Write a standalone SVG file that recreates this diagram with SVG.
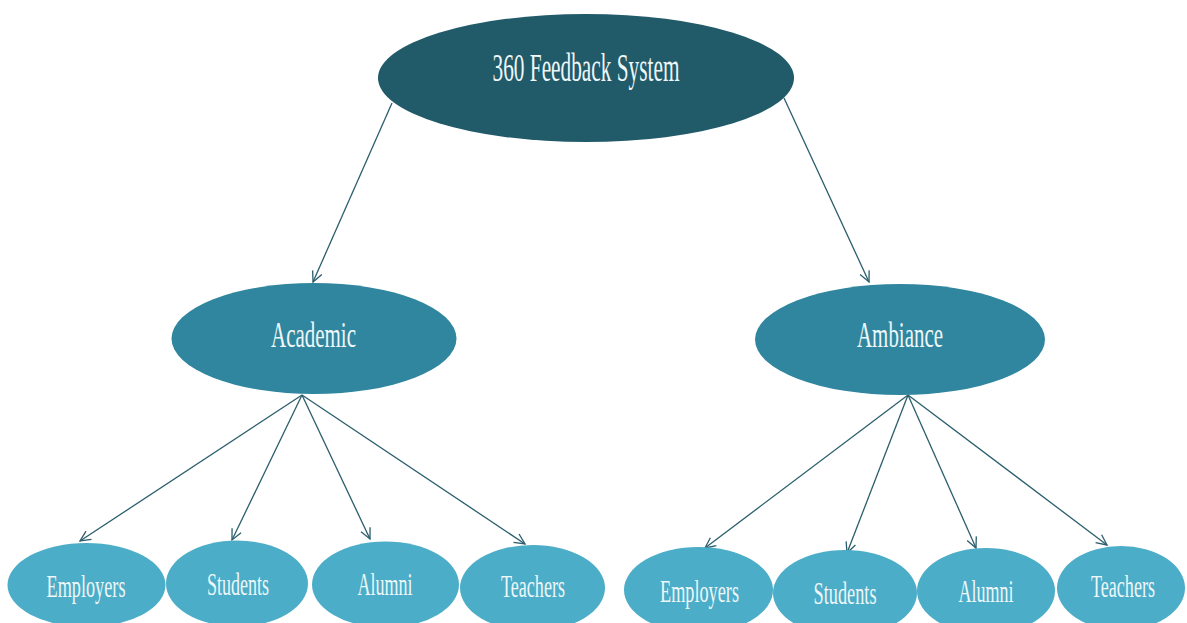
<svg xmlns="http://www.w3.org/2000/svg" width="1187" height="623" viewBox="0 0 1187 623">
<style>
.t{font-family:"Liberation Serif","Times New Roman",serif;fill:#eef7f9;text-anchor:middle}
.top{fill:#215a69}
.mid{fill:#30869e}
.leaf{fill:#4badc7}
.c{stroke:#2b5e6c;stroke-width:1.3;fill:none;marker-end:url(#ah)}
</style>
<defs>
<marker id="ah" markerUnits="userSpaceOnUse" markerWidth="14" markerHeight="14" refX="12" refY="7" orient="auto" overflow="visible">
<path d="M1.5,2 L12,7 L1.5,12" fill="none" stroke="#2b5e6c" stroke-width="1.3"/>
</marker>
</defs>
<rect width="1187" height="623" fill="#ffffff"/>
<g id="connectors">
<path class="c" d="M392,103 L313,282"/>
<path class="c" d="M784,98 L869,282"/>
<path class="c" d="M302,395 L80,541"/>
<path class="c" d="M302,395 L232,540"/>
<path class="c" d="M302,395 L370,539"/>
<path class="c" d="M302,395 L525,544"/>
<path class="c" d="M908,395 L705,548"/>
<path class="c" d="M908,395 L847,553"/>
<path class="c" d="M908,395 L976,548"/>
<path class="c" d="M908,395 L1107,545"/>
</g>
<g id="root">
<ellipse class="top" cx="586" cy="78" rx="208" ry="64"/>
<text class="t" x="586" y="80.5" font-size="40" textLength="187" lengthAdjust="spacingAndGlyphs">360 Feedback System</text>
</g>
<g id="academic">
<ellipse class="mid" cx="314" cy="338.5" rx="142.5" ry="55.5"/>
<text class="t" x="313.5" y="346.7" font-size="36" textLength="85" lengthAdjust="spacingAndGlyphs">Academic</text>
</g>
<g id="ambiance">
<ellipse class="mid" cx="900" cy="339.5" rx="145" ry="55.5"/>
<text class="t" x="900" y="346.7" font-size="36" textLength="86" lengthAdjust="spacingAndGlyphs">Ambiance</text>
</g>
<g id="a-employers">
<ellipse class="leaf" cx="86.5" cy="585" rx="79" ry="42"/>
<text class="t" x="86" y="597" font-size="32" textLength="79" lengthAdjust="spacingAndGlyphs">Employers</text>
</g>
<g id="a-students">
<ellipse class="leaf" cx="237" cy="583.5" rx="71" ry="43"/>
<text class="t" x="238" y="594.5" font-size="32" textLength="62" lengthAdjust="spacingAndGlyphs">Students</text>
</g>
<g id="a-alumni">
<ellipse class="leaf" cx="385.5" cy="584.5" rx="73.5" ry="43"/>
<text class="t" x="385" y="595" font-size="32" textLength="55" lengthAdjust="spacingAndGlyphs">Alumni</text>
</g>
<g id="a-teachers">
<ellipse class="leaf" cx="532.5" cy="588" rx="72.5" ry="43"/>
<text class="t" x="533" y="597" font-size="32" textLength="64" lengthAdjust="spacingAndGlyphs">Teachers</text>
</g>
<g id="b-employers">
<ellipse class="leaf" cx="698.5" cy="590" rx="74.5" ry="43"/>
<text class="t" x="699.5" y="602" font-size="32" textLength="79" lengthAdjust="spacingAndGlyphs">Employers</text>
</g>
<g id="b-students">
<ellipse class="leaf" cx="845" cy="593" rx="72" ry="43"/>
<text class="t" x="845" y="603.5" font-size="32" textLength="63" lengthAdjust="spacingAndGlyphs">Students</text>
</g>
<g id="b-alumni">
<ellipse class="leaf" cx="986" cy="591" rx="69" ry="43"/>
<text class="t" x="986" y="601.7" font-size="32" textLength="55" lengthAdjust="spacingAndGlyphs">Alumni</text>
</g>
<g id="b-teachers">
<ellipse class="leaf" cx="1121" cy="588" rx="64" ry="42"/>
<text class="t" x="1123" y="597" font-size="32" textLength="64" lengthAdjust="spacingAndGlyphs">Teachers</text>
</g>
</svg>
